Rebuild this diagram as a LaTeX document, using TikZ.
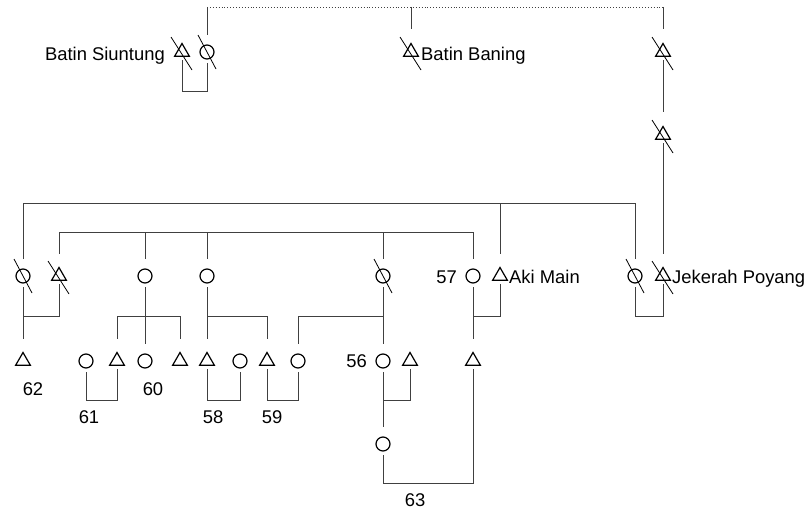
\documentclass[tikz,border=0pt]{standalone}
\usepackage{fontspec}
\setmainfont{Liberation Sans}
\usepackage{tikz}
\usetikzlibrary{shapes.geometric,positioning}

\begin{document}
\begin{tikzpicture}[x=1pt, y=-1pt,
        font=\fontsize{18.4}{20}\selectfont,
        link/.style={draw=black!75, line width=0.9pt},
        fem/.style={circle, draw, line width=1.2pt, minimum size=14pt, inner sep=0pt, outer sep=4pt},
        male/.style={regular polygon, regular polygon sides=3, draw, line width=1.2pt, minimum size=17pt, inner sep=0pt, outer sep=4pt},
        slash/.style={draw, line width=0.8pt},
        lbl/.style={inner sep=0pt}
    ]
        \useasboundingbox (0,0) rectangle (808,511);
        % first generation
        \node[male] (bs) at (182,52) {};
        \node[fem] (bsw) at (207,52) {};
        \node[male] (bb) at (411,52) {};
        \node[male] (jf) at (663,52) {};
        \node[male] (jg) at (663,135) {};
        % second generation
        \node[fem] (c22) at (23,276) {};
        \node[male] (t60) at (59,276) {};
        \node[fem] (c145) at (145,276) {};
        \node[fem] (c207) at (207,276) {};
        \node[fem] (c382) at (383,276) {};
        \node[fem] (w57) at (473,276) {};
        \node[male] (am) at (500,276) {};
        \node[fem] (jpw) at (635,276) {};
        \node[male] (jp) at (663,276) {};
        % third generation
        \node[male] (t62) at (23,361) {};
        \node[fem] (c61) at (86,361) {};
        \node[male] (t61) at (117,361) {};
        \node[fem] (c60) at (145,361) {};
        \node[male] (t180) at (180,361) {};
        \node[male] (t58) at (207,361) {};
        \node[fem] (c58) at (240,361) {};
        \node[male] (t59) at (267,361) {};
        \node[fem] (c59) at (298,361) {};
        \node[fem] (c56) at (383,361) {};
        \node[male] (t56) at (410,361) {};
        \node[male] (t63) at (473,361) {};
        \node[fem] (c63) at (383,444) {};
        % names and numbers
        \node[lbl, anchor=base east] (lbs) at (165,60) {Batin Siuntung};
        \node[lbl, anchor=base west] (lbb) at (421,60) {Batin Baning};
        \node[lbl, anchor=base west] (ljp) at (672,283) {Jekerah Poyang};
        \node[lbl, anchor=base west] (lam) at (509,283) {Aki Main};
        \node[lbl, anchor=base east] (l57) at (457,283) {57};
        \node[lbl, anchor=base east] (l56) at (367,367) {56};
        \node[lbl, anchor=base] (l62) at (33,395) {62};
        \node[lbl, anchor=base] (l60) at (153,395) {60};
        \node[lbl, anchor=base] (l61) at (89,423) {61};
        \node[lbl, anchor=base] (l58) at (213,423) {58};
        \node[lbl, anchor=base] (l59) at (272,423) {59};
        \node[lbl, anchor=base] (l63) at (415,506) {63};
        % dead
        \foreach \n in {bsw, c22, c382, jpw}
            \draw[slash] (\n.center) +(-9,-17) -- +(9,17);
        \foreach \n in {bs, bb, jf, jg, t60, jp}
            \draw[slash] (\n.center) +(-11,-15) -- +(10,18);
        % top line
        \draw[link, dotted] (bsw |- 0,7) -- (jf |- 0,7);
        \draw[link] (bsw |- 0,7) -- ([yshift=6pt]bsw.north);
        \draw[link] (bb |- 0,7) -- ([yshift=6pt]bb.north);
        \draw[link] (jf |- 0,7) -- ([yshift=6pt]jf.north);
        \draw[link] (jf.south) -- ([yshift=6pt]jg.north);
        \draw[link] (jg.south) -- ([yshift=6pt]jp.north);
        \draw[link] (bs.south) -- (bs |- 0,91) -| (bsw.south);
        \draw[link] (jpw.south) -- (jpw |- 0,316) -| (jp.south);
        % siblings
        \draw[link] ([yshift=6pt]c22.north) -- (c22 |- 0,203) -- (jpw |- 0,203) -- ([yshift=6pt]jpw.north);
        \draw[link] (am |- 0,203) -- ([yshift=6pt]am.north);
        \draw[link] ([yshift=6pt]t60.north) -- (t60 |- 0,232) -- (w57 |- 0,232) -- ([yshift=6pt]w57.north);
        \foreach \n in {c145, c207, c382}
            \draw[link] (\n |- 0,232) -- ([yshift=6pt]\n.north);
        % children
        \draw[link] (c22.south) -- ([yshift=6pt]t62.north);
        \draw[link] (c22 |- 0,316) -| (t60.south);
        \draw[link] (c145.south) -- ([yshift=6pt]c60.north);
        \draw[link] ([yshift=6pt]t61.north) -- (t61 |- 0,316) -- (t180 |- 0,316) -- ([yshift=6pt]t180.north);
        \draw[link] (c207.south) -- ([yshift=6pt]t58.north);
        \draw[link] (c207 |- 0,316) -| ([yshift=6pt]t59.north);
        \draw[link] (c382.south) -- ([yshift=6pt]c56.north);
        \draw[link] (c382 |- 0,316) -| ([yshift=6pt]c59.north);
        \draw[link] (w57.south) -- ([yshift=6pt]t63.north);
        \draw[link] (w57 |- 0,316) -| (am.south);
        % marriages
        \draw[link] (c61.south) -- (c61 |- 0,400) -| (t61.south);
        \draw[link] (t58.south) -- (t58 |- 0,400) -| (c58.south);
        \draw[link] (t59.south) -- (t59 |- 0,400) -| (c59.south);
        \draw[link] (c56.south) -- (c56 |- 0,400) -| (t56.south);
        \draw[link] (c56 |- 0,400) -- ([yshift=6pt]c63.north);
        \draw[link] (c63.south) -- (c63 |- 0,483) -| (t63.south);
    \end{tikzpicture}
\end{document}
